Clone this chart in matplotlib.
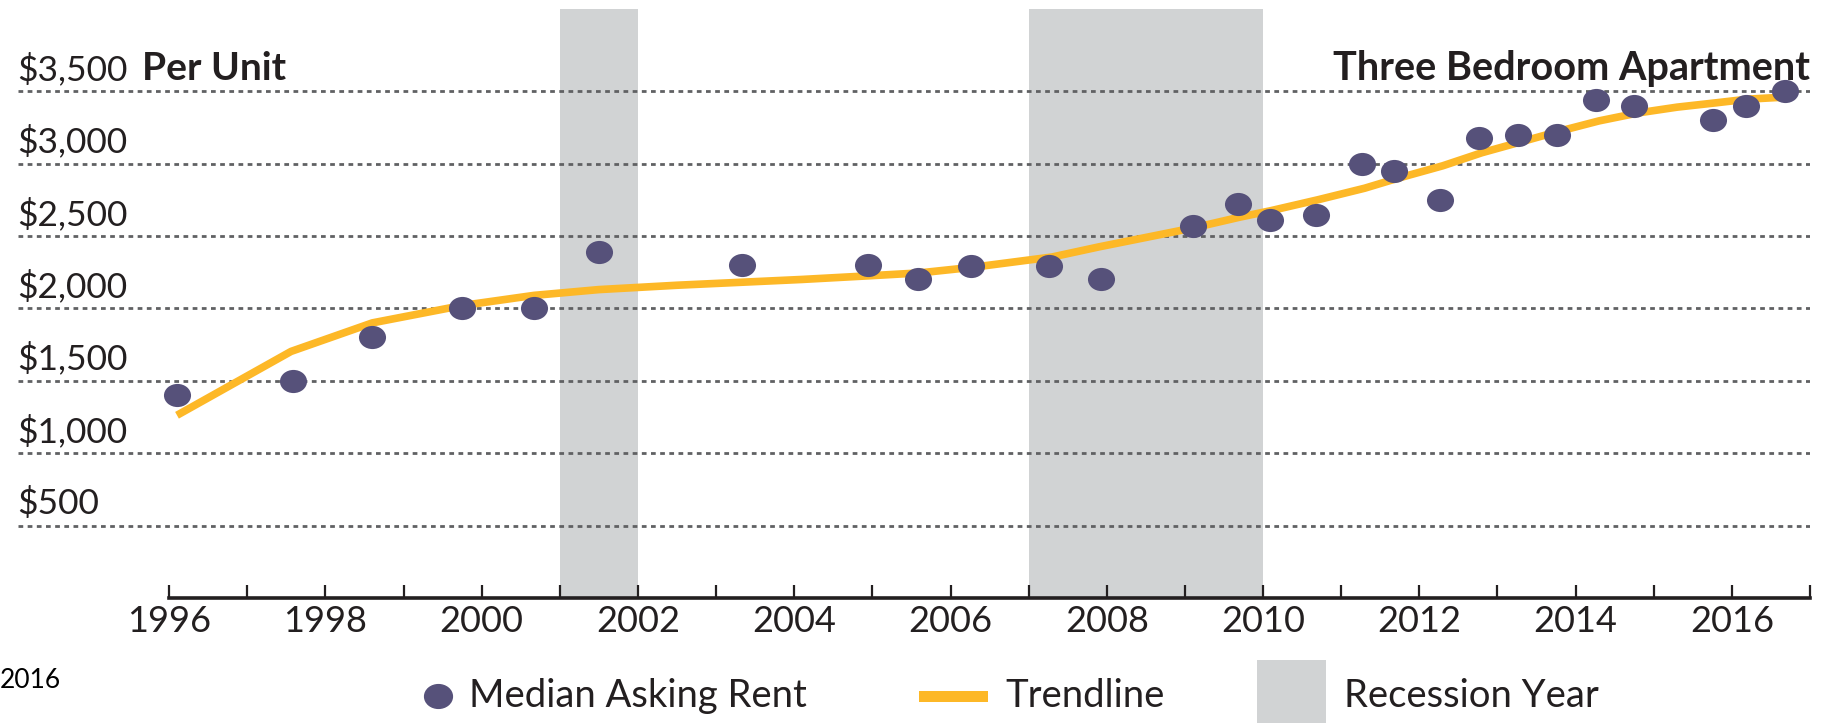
import matplotlib
matplotlib.use("Agg")
import matplotlib.pyplot as plt
from matplotlib.lines import Line2D
from matplotlib.patches import Rectangle
from matplotlib.path import Path
from matplotlib import transforms

plt.rcParams["font.family"] = ["Lato", "DejaVu Sans"]

# %% data
rent_years = [1996.1, 1997.58, 1998.59, 1999.75, 2000.67, 2001.5, 2003.33, 2004.95,
              2005.59, 2006.26, 2007.26, 2007.93, 2009.1, 2009.68, 2010.09, 2010.68,
              2011.26, 2011.68, 2012.26, 2012.76, 2013.26, 2013.76, 2014.26, 2014.75,
              2015.76, 2016.18, 2016.68]
rent_values = [1405, 1500, 1800, 2000, 2000, 2390, 2300, 2300,
               2200, 2290, 2295, 2200, 2570, 2720, 2610, 2645,
               3000, 2950, 2750, 3175, 3200, 3200, 3440, 3400,
               3300, 3400, 3500]

trend_years = [1996.1, 1997.56, 1998.6, 1999.75, 2000.67, 2001.5, 2002.5, 2003.3,
               2004.1, 2004.95, 2005.6, 2006.3, 2007.3, 2007.9, 2008.5, 2009.1,
               2009.7, 2010.1, 2010.7, 2011.3, 2011.7, 2012.3, 2012.8, 2013.3,
               2013.8, 2014.3, 2014.8, 2015.3, 2015.8, 2016.2, 2016.7]
trend_values = [1262, 1703, 1900, 2020, 2090, 2130, 2160, 2180,
                2200, 2225, 2245, 2285, 2355, 2425, 2490, 2555,
                2630, 2675, 2750, 2830, 2895, 2985, 3075, 3150,
                3225, 3295, 3350, 3390, 3420, 3445, 3460]

recessions = [(2001, 2002), (2007, 2010)]

ygrid = [500, 1000, 1500, 2000, 2500, 3000, 3500]
ylabels = ["$500", "$1,000", "$1,500", "$2,000", "$2,500", "$3,000", "$3,500"]
xticks = list(range(1996, 2018))
xlabels = [str(y) if (y % 2 == 0 and y < 2017) else "" for y in xticks]

dot_color = "#56517a"
trend_color = "#fdb827"
band_color = "#d1d3d4"
grid_color = "#606163"
text_color = "#231f20"

# dots in the source are a little wider than tall
oval = transforms.Affine2D().scale(1.17, 1.0).transform_path(Path.unit_circle())

W, H = 1841, 723
fg = plt.figure(figsize=(W / 100, H / 100), dpi=100)
ax = fg.add_axes([17.6 / W, 1 - 598 / H, (1810 - 17.6) / W, (598 - 9.4) / H])
ax.set_xlim(1994.06, 2017)
ax.set_ylim(0, 4065)

for a, b in recessions:
    ax.axvspan(a, b, color=band_color, lw=0, zorder=0)

ax.hlines(ygrid, 1994.06, 2017, colors=grid_color, linewidth=2.0,
          linestyles=[(0, (1.7, 1.6))], zorder=1)

ax.plot(trend_years, trend_values, color=trend_color, lw=5.5, zorder=2,
        solid_capstyle="butt", solid_joinstyle="round")
ax.scatter(rent_years, rent_values, s=19.5 ** 2, marker=oval, color=dot_color,
           zorder=3, lw=0)

# y labels sit above the gridlines
for v, lab in zip(ygrid, ylabels):
    ax.annotate(lab, (0, v), xycoords=("axes fraction", "data"), xytext=(0, 8),
                textcoords="offset points", fontsize=25.5, color=text_color,
                ha="left", va="baseline")

blend = transforms.blended_transform_factory(ax.transAxes, ax.transData)
ax.annotate("Per Unit", (0.0694, 3500), xycoords=blend, xytext=(0, 8),
            textcoords="offset points", fontsize=28, fontweight="bold",
            color=text_color, ha="left", va="baseline")
ax.annotate("Three Bedroom Apartment", (1.0, 3500), xycoords=blend, xytext=(0, 8),
            textcoords="offset points", fontsize=28.5, fontweight="bold",
            color=text_color, ha="right", va="baseline")

# x axis: only from 1996 to 2017
for s in ("left", "right", "top"):
    ax.spines[s].set_visible(False)
ax.spines["bottom"].set_bounds(1996, 2017)
ax.spines["bottom"].set_linewidth(2.6)
ax.spines["bottom"].set_color(text_color)
ax.set_yticks([])
ax.set_xticks(xticks)
ax.set_xticklabels(xlabels)
ax.tick_params(axis="x", direction="in", length=9.5, width=1.6, color=text_color,
               labelsize=26, labelcolor=text_color, pad=5)

# %% legend drawn along the bottom
ly = 1 - 696 / H
fg.add_artist(Line2D([438 / W], [ly], marker=oval, markersize=20, color=dot_color,
                     linestyle="none", transform=fg.transFigure))
fg.text(469 / W, ly, "Median Asking Rent", fontsize=27.5, color=text_color,
        va="center", ha="left")
fg.add_artist(Rectangle((919 / W, 1 - 702 / H), 69 / W, 11 / H, color=trend_color,
                        lw=0, transform=fg.transFigure))
fg.text(1005 / W, ly, "Trendline", fontsize=27.5, color=text_color,
        va="center", ha="left")
fg.add_artist(Rectangle((1257 / W, 0), 69 / W, 1 - 660 / H, color=band_color,
                        lw=0, transform=fg.transFigure))
fg.text(1344 / W, ly, "Recession Year", fontsize=27.5, color=text_color,
        va="center", ha="left")
fg.text(0, 1 - 681 / H, "2016", fontsize=19, color="black", va="center", ha="left")

fg.savefig("out.png", dpi=100)
plt.close(fg)
